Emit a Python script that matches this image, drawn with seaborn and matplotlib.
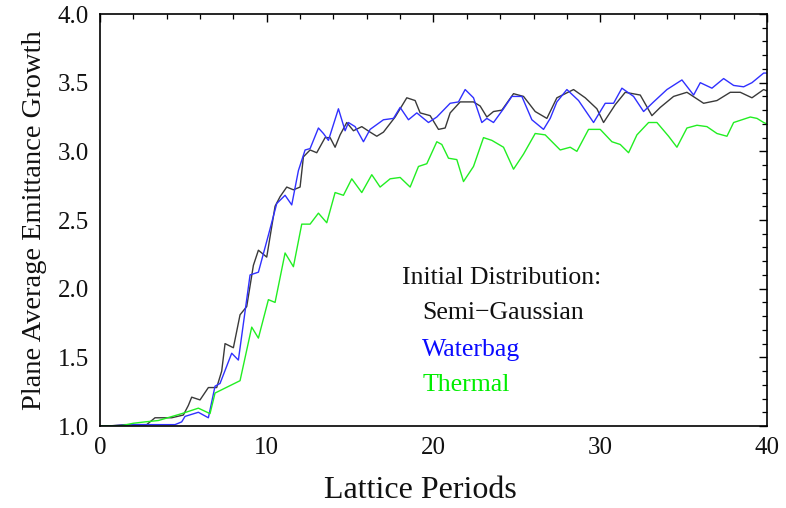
import numpy as np
import pandas as pd
import matplotlib
matplotlib.use("Agg")
import matplotlib.pyplot as plt
import seaborn as sns
from matplotlib.ticker import MultipleLocator

# ---- data ----
semi_x = [0, 0.5, 1.5, 2.8, 3.3, 4.3, 5.0, 5.3, 5.5, 6.0, 6.5, 7.0, 7.3, 7.5, 8.0, 8.4, 8.8,
          9.2, 9.5, 10.0, 10.5, 10.8, 11.2, 11.6, 12.0, 12.2, 12.6, 13.0, 13.5, 13.8, 14.1, 14.4,
          14.8, 15.2, 15.7, 16.2, 16.6, 17.0, 17.7, 18.4, 18.9, 19.2, 19.8, 20.3, 20.7, 21.0,
          21.6, 22.4, 22.8, 23.2, 23.6, 24.1, 24.8, 25.4, 26.1, 26.8, 27.4, 28.4, 29.1, 29.8,
          30.2, 30.9, 31.5, 32.4, 33.1, 33.6, 34.4, 35.2, 36.2, 37.0, 37.8, 38.4, 39.1, 39.8, 40.0]
semi_y = [1.0, 1.0, 1.01, 1.01, 1.06, 1.06, 1.08, 1.15, 1.21, 1.19, 1.28, 1.28, 1.40, 1.60,
          1.57, 1.81, 1.87, 2.17, 2.28, 2.23, 2.60, 2.67, 2.74, 2.72, 2.74, 2.96, 3.01, 2.99,
          3.10, 3.10, 3.03, 3.12, 3.21, 3.15, 3.18, 3.14, 3.11, 3.14, 3.25, 3.39, 3.37, 3.28,
          3.26, 3.16, 3.17, 3.28, 3.36, 3.36, 3.33, 3.25, 3.29, 3.30, 3.42, 3.40, 3.29, 3.24,
          3.39, 3.45, 3.39, 3.31, 3.21, 3.34, 3.43, 3.41, 3.26, 3.32, 3.40, 3.43, 3.35, 3.37,
          3.43, 3.43, 3.39, 3.45, 3.44]

water_x = [0, 0.5, 2.0, 4.5, 4.9, 5.1, 5.9, 6.5, 6.9, 7.2, 7.9, 8.3, 9.0, 9.5, 10.1, 10.6,
           11.1, 11.5, 11.9, 12.3, 12.6, 13.1, 13.4, 13.7, 14.3, 14.7, 14.9, 15.3, 15.8, 16.2,
           17.0, 17.6, 18.0, 18.5, 19.0, 19.7, 20.2, 21.0, 21.5, 21.9, 22.4, 22.9, 23.2, 23.6,
           24.2, 24.7, 25.3, 25.9, 26.6, 27.0, 27.4, 28.0, 28.7, 29.6, 30.3, 30.8, 31.3, 32.0,
           32.6, 33.2, 34.0, 34.9, 35.6, 36.0, 36.7, 37.4, 38.0, 38.6, 39.1, 39.8, 40.0]
water_y = [1.0, 1.0, 1.01, 1.01, 1.03, 1.07, 1.10, 1.06, 1.29, 1.31, 1.53, 1.48, 2.10, 2.12,
           2.39, 2.62, 2.68, 2.61, 2.86, 3.01, 3.02, 3.17, 3.13, 3.08, 3.31, 3.15, 3.21, 3.18,
           3.07, 3.16, 3.23, 3.24, 3.32, 3.23, 3.28, 3.21, 3.25, 3.35, 3.36, 3.45, 3.39, 3.21,
           3.24, 3.21, 3.31, 3.40, 3.40, 3.23, 3.16, 3.24, 3.36, 3.45, 3.37, 3.21, 3.35, 3.35,
           3.46, 3.40, 3.29, 3.36, 3.45, 3.52, 3.41, 3.50, 3.46, 3.53, 3.48, 3.47, 3.50, 3.57, 3.57]

thermal_x = [0, 1.2, 2.0, 2.7, 3.5, 4.9, 5.9, 6.6, 6.9, 7.4, 8.4, 9.1, 9.5, 10.1, 10.5, 11.1,
             11.6, 12.1, 12.6, 13.1, 13.6, 14.1, 14.6, 15.1, 15.7, 16.3, 16.8, 17.4, 18.0, 18.6,
             19.1, 19.6, 20.2, 20.5, 20.9, 21.4, 21.8, 22.4, 23.0, 23.5, 24.2, 24.8, 25.4, 26.1,
             26.7, 27.6, 28.2, 28.6, 29.3, 30.0, 30.7, 31.2, 31.7, 32.2, 32.9, 33.4, 34.1, 34.6,
             35.2, 35.8, 36.4, 37.0, 37.6, 38.0, 39.0, 39.4, 39.8, 40.0]
thermal_y = [1.0, 1.0, 1.02, 1.03, 1.04, 1.09, 1.13, 1.09, 1.24, 1.27, 1.33, 1.72, 1.64, 1.92,
             1.90, 2.26, 2.16, 2.47, 2.47, 2.55, 2.48, 2.70, 2.68, 2.80, 2.70, 2.83, 2.74, 2.80,
             2.81, 2.74, 2.89, 2.91, 3.07, 3.05, 2.95, 2.94, 2.78, 2.89, 3.10, 3.08, 3.03, 2.87,
             2.98, 3.13, 3.12, 3.01, 3.03, 3.00, 3.16, 3.16, 3.07, 3.05, 2.99, 3.12, 3.21, 3.21,
             3.11, 3.03, 3.17, 3.19, 3.18, 3.13, 3.11, 3.21, 3.25, 3.24, 3.21, 3.20]

series_names = ["Semi\u2212Gaussian", "Waterbag", "Thermal"]
legend_title = "Initial Distribution:"
x_label = "Lattice Periods"
y_label = "Plane Average Emittance Growth"
x_ticks = [0, 10, 20, 30, 40]
y_ticks = [1.0, 1.5, 2.0, 2.5, 3.0, 3.5, 4.0]

colors = {series_names[0]: "#3a3a3a", series_names[1]: "#3030ff", series_names[2]: "#22ee22"}
text_colors = ["#111111", "#0a0aff", "#00ee00"]

df = pd.concat([
    pd.DataFrame({"x": semi_x, "y": semi_y, "dist": series_names[0]}),
    pd.DataFrame({"x": water_x, "y": water_y, "dist": series_names[1]}),
    pd.DataFrame({"x": thermal_x, "y": thermal_y, "dist": series_names[2]}),
], ignore_index=True)

sns.set_theme(style="white")
plt.rcParams["font.family"] = ["Liberation Serif", "DejaVu Serif"]

fig = plt.figure(figsize=(7.86, 5.08), dpi=100)
ax = fig.add_axes([0.1272, 0.1614, 0.8486, 0.811])

sns.lineplot(data=df, x="x", y="y", hue="dist", palette=colors, estimator=None,
             sort=False, linewidth=1.0, legend=False, ax=ax)

ax.set_xlim(0, 40)
ax.set_ylim(1.0, 4.0)
ax.set_xticks(x_ticks)
ax.set_xticklabels([str(t) for t in x_ticks])
ax.set_yticks(y_ticks)
ax.set_yticklabels([f"{t:.1f}" for t in y_ticks])
ax.xaxis.set_minor_locator(MultipleLocator(2))
ax.yaxis.set_minor_locator(MultipleLocator(0.1))
ax.tick_params(which="both", direction="in", top=True, right=True, color="black",
               labelsize=18, labelcolor="#111111")
ax.tick_params(which="major", length=6, width=1.0, pad=8)
ax.tick_params(which="minor", length=3.5, width=0.9)
for s in ax.spines.values():
    s.set_color("black")
    s.set_linewidth(1.2)

ax.set_xlabel(x_label, fontsize=23, color="#111111", labelpad=12)
ax.xaxis.label.set_x(0.481)
ax.set_ylabel(y_label, fontsize=20.5, color="#111111", labelpad=8)

ax.text(0.453, 0.359, legend_title, transform=ax.transAxes, fontsize=18.5,
        color=text_colors[0], va="center", ha="left")
ax.text(0.483, 0.274, series_names[0], transform=ax.transAxes, fontsize=18.5,
        color=text_colors[0], va="center", ha="left")
ax.text(0.483, 0.184, series_names[1], transform=ax.transAxes, fontsize=18.5,
        color=text_colors[1], va="center", ha="left")
ax.text(0.483, 0.0995, series_names[2], transform=ax.transAxes, fontsize=18.5,
        color=text_colors[2], va="center", ha="left")

fig.savefig("out.png", dpi=100)
